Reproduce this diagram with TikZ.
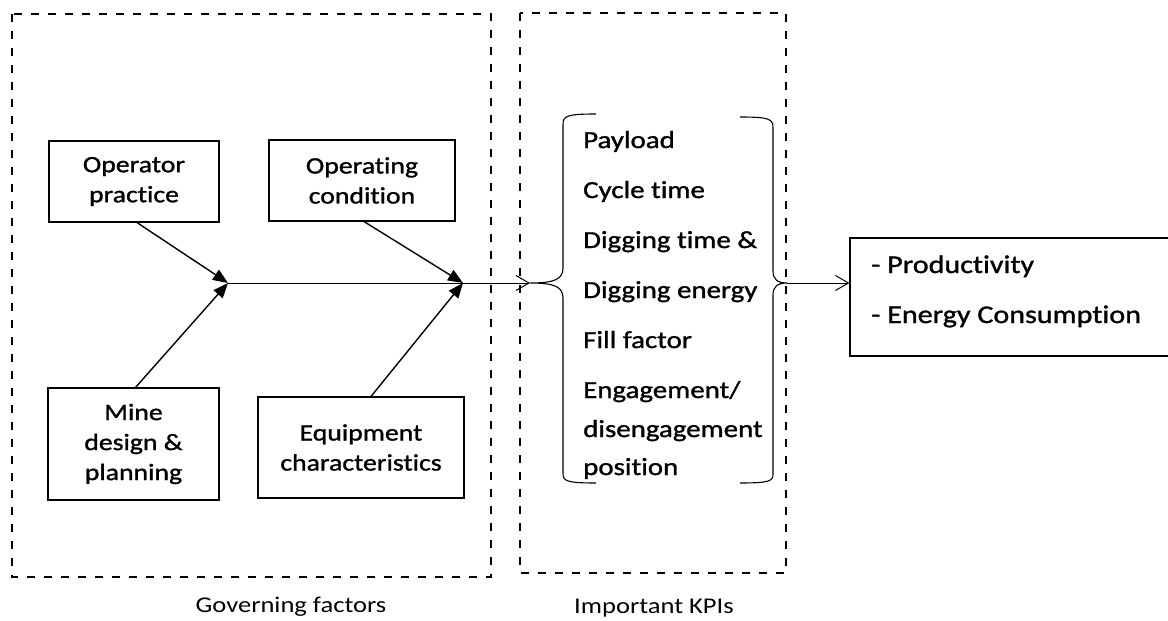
\documentclass[tikz,border=0pt]{standalone}
\usepackage{fontspec}
\setmainfont[FakeStretch=1.18, FakeBold=1.2, Ligatures=NoCommon]{Carlito}
\newfontfamily\plainfont[FakeStretch=1.18, Ligatures=NoCommon]{Carlito}
\usetikzlibrary{arrows.meta}

\begin{document}
\begin{tikzpicture}[x=1pt, y=-1pt,
    factor/.style = {draw, line width=1.1pt, align=center, inner sep=0pt,
                     minimum height=81pt, font=\fontsize{23.5}{30}\selectfont},
    group/.style = {draw, line width=1.5pt, dash pattern=on 8pt off 9pt},
    bone/.style = {line width=1.4pt, -{Triangle[length=15pt,width=12pt]}},
    flow/.style = {line width=1pt, -{Straight Barb[length=13pt,width=15pt]}},
    brace/.style = {line width=1.1pt},
    kpi/.style = {anchor=base west, inner sep=0pt, font=\fontsize{24.5}{30}\selectfont},
    caption/.style = {anchor=base, inner sep=0pt, font=\plainfont\fontsize{22.5}{27}\selectfont}]
    \useasboundingbox (0,0) rectangle (1168,621);

    % the two groups
    \draw[group] (12,14) rectangle (491,577);
    \draw[group] (520,13) rectangle (786,573);
    \node[caption] (gov) at (291,612) {Governing factors};
    \node[caption] (imp) at (654,613) {Important KPIs};

    % governing factors
    \node[factor, minimum width=170pt] (oper) at (134,181.5) {Operator\\practice};
    \node[factor, minimum width=186pt] (cond) at (362,180.5) {Operating\\condition};
    \node[factor, minimum width=171pt, minimum height=112pt] (mine) at (133.5,444) {Mine\\design \&\\planning};
    \node[factor, minimum width=206pt, minimum height=101pt] (equip) at (361,447.5) {Equipment\\characteristics};

    \coordinate (j1) at (228,283);
    \coordinate (j2) at (463,283);
    \coordinate (lb) at (530,283);
    \coordinate (rb) at (787,283);

    \draw[bone] ([xshift=3pt]oper.south) -- (j1);
    \draw[bone] ([xshift=2pt]mine.north) -- (j1);
    \draw[bone] ([xshift=2pt]cond.south) -- (j2);
    \draw[bone] ([xshift=10pt]equip.north) -- (j2);
    \draw[flow] (j1) -- (lb);

    % KPIs
    \draw[brace] (596,114) .. controls (566,114) and (563,116) .. (563,125) -- (563,268)
        .. controls (563,279) and (555,283) .. (lb) .. controls (555,283) and (563,287) .. (563,298)
        -- (563,473) .. controls (563,481) and (566,483) .. (596,483);
    \draw[brace] (740,117) .. controls (770,117) and (773,119) .. (773,128) -- (773,271)
        .. controls (773,279) and (777,283) .. (rb) .. controls (777,283) and (773,287) .. (773,295)
        -- (773,474) .. controls (773,481) and (770,483) .. (740,483);
    \foreach \y/\t [count=\i] in {148/Payload, 198/Cycle time, 248/Digging time \&,
        298/Digging energy, 348/Fill factor, 398/{Engagement/}, 437/disengagement, 475/position}
        \node[kpi] (k\i) at (583,\y) {\t};

    % outcome
    \node[draw, line width=1.1pt, minimum width=330pt, minimum height=118pt, inner sep=0pt] (out) at (1015,297) {};
    \node[kpi, font=\fontsize{25.5}{30}\selectfont] (prod) at (871,273) {- Productivity};
    \node[kpi, font=\fontsize{25.5}{30}\selectfont] (ener) at (871,323) {- Energy Consumption};
    \draw[flow] (rb) -- (rb -| out.west);
\end{tikzpicture}
\end{document}
